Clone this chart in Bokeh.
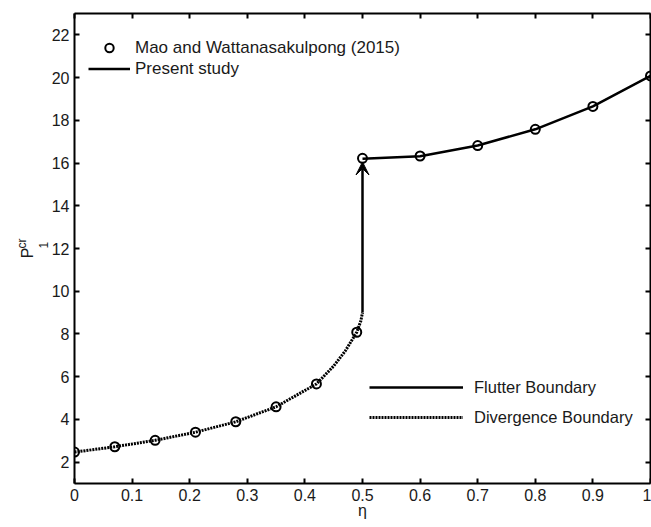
from bokeh.plotting import figure
from bokeh.models import (LinearAxis, FixedTicker, Range1d, Legend, LegendItem,
                          Arrow, VeeHead)
from bokeh.embed import file_html
from bokeh.resources import INLINE

# ---- data ----
# Mao and Wattanasakulpong (2015) (open circles)
eta_ref = [0, 0.07, 0.14, 0.21, 0.28, 0.35, 0.42, 0.49, 0.5, 0.6, 0.7, 0.8, 0.9, 1.0]
p_ref = [2.47, 2.72, 3.02, 3.40, 3.89, 4.59, 5.66, 8.08, 16.22, 16.33, 16.82, 17.58, 18.65, 20.08]

# Present study: divergence boundary (dotted)
eta_div = [0, 0.07, 0.14, 0.21, 0.28, 0.35, 0.42, 0.45, 0.47, 0.49, 0.497, 0.5]
p_div = [2.47, 2.72, 3.02, 3.40, 3.89, 4.59, 5.66, 6.50, 7.20, 8.08, 8.60, 9.00]

# Present study: flutter boundary (solid)
eta_flut = [0.5, 0.6, 0.7, 0.8, 0.9, 1.0]
p_flut = [16.20, 16.32, 16.82, 17.58, 18.65, 20.08]

# jump from divergence to flutter (arrow)
eta_jump = [0.5, 0.5]
p_jump = [9.0, 16.05]

x_ticks = [0, 0.1, 0.2, 0.3, 0.4, 0.5, 0.6, 0.7, 0.8, 0.9, 1]
x_tick_labels = ["0", "0.1", "0.2", "0.3", "0.4", "0.5", "0.6", "0.7", "0.8", "0.9", "1"]
y_ticks = [2, 4, 6, 8, 10, 12, 14, 16, 18, 20, 22]

FONT = "Liberation Sans"
TXT = "#1a1a1a"
NB = "\u00a0"

p = figure(width=651, height=527, x_range=Range1d(0, 1), y_range=Range1d(1, 23),
           output_backend="svg", toolbar_location=None,
           min_border_left=74, min_border_right=1, min_border_top=13, min_border_bottom=44,
           background_fill_color="white", border_fill_color="white",
           outline_line_color=None)
p.xgrid.visible = False
p.ygrid.visible = False


def style(ax, ticks, show_labels=True):
    ax.ticker = FixedTicker(ticks=ticks)
    ax.axis_line_width = 2
    ax.axis_line_color = "black"
    ax.major_tick_in = 5
    ax.major_tick_out = 0
    ax.major_tick_line_width = 2
    ax.major_tick_line_color = "black"
    ax.minor_tick_line_color = None
    ax.major_label_text_font = FONT
    ax.axis_label_text_font = FONT
    ax.axis_label_text_font_style = "normal"
    ax.axis_label_text_color = TXT
    if show_labels:
        ax.major_label_text_color = TXT
        ax.major_label_text_font_size = "16px"
        ax.major_label_standoff = 5
    else:
        ax.major_label_text_color = None
        ax.major_label_text_font_size = "0px"
        ax.major_label_standoff = 0


def label_axis(text, size, standoff):
    ax = LinearAxis(ticker=FixedTicker(ticks=[]), axis_line_color=None,
                    major_tick_line_color=None, minor_tick_line_color=None,
                    major_label_text_color=None, major_label_text_font_size="0px",
                    major_label_standoff=0, major_tick_out=0, major_tick_in=0,
                    axis_label=text, axis_label_text_font=FONT,
                    axis_label_text_font_style="normal", axis_label_text_color=TXT,
                    axis_label_text_font_size=size, axis_label_standoff=standoff)
    return ax


style(p.xaxis[0], x_ticks)
p.xaxis[0].major_label_overrides = {t: l for t, l in zip(x_ticks, x_tick_labels)}
p.xaxis[0].axis_label = "η"
p.xaxis[0].axis_label_text_font_size = "16px"
p.xaxis[0].axis_label_standoff = -2

style(p.yaxis[0], y_ticks)
# subscript "1" of the y title sits on the main y axis
p.yaxis[0].axis_label = NB + NB + "1"
p.yaxis[0].axis_label_text_font_size = "12px"
p.yaxis[0].axis_label_standoff = -2

# "P" and superscript "cr" on extra (invisible) left axes
p.add_layout(label_axis("P" + NB + NB, "16px", -2), "left")
p.add_layout(label_axis(NB + NB + NB + "cr", "12px", -13), "left")

top = LinearAxis()
style(top, x_ticks, False)
p.add_layout(top, "above")
right = LinearAxis()
style(right, y_ticks, False)
p.add_layout(right, "right")

# ---- glyphs ----
div_r = p.line(eta_div, p_div, line_color="black", line_width=3, line_dash="2 1")
flut_r = p.line(eta_flut, p_flut, line_color="black", line_width=2.5)
p.add_layout(Arrow(end=VeeHead(size=13, fill_color="black", line_color="black", line_width=1),
                   x_start=eta_jump[0], y_start=p_jump[0],
                   x_end=eta_jump[1], y_end=p_jump[1],
                   line_width=2.5, line_color="black"))
circ_r = p.scatter(eta_ref, p_ref, marker="circle", size=9, fill_color=None,
                   line_color="black", line_width=2)

# ---- legends ----
leg1 = Legend(items=[LegendItem(label="Mao and Wattanasakulpong (2015)", renderers=[circ_r]),
                     LegendItem(label="Present study", renderers=[flut_r])],
              location=(14, 404), glyph_width=42, glyph_height=21, label_height=21,
              label_standoff=5, spacing=0, padding=0, margin=0,
              border_line_color=None, background_fill_alpha=0,
              label_text_font=FONT, label_text_font_size="17px", label_text_color=TXT)
leg2 = Legend(items=[LegendItem(label="Flutter Boundary", renderers=[flut_r]),
                     LegendItem(label="Divergence Boundary", renderers=[div_r])],
              location=(295, 56), glyph_width=94, glyph_height=20, label_height=20,
              label_standoff=11, spacing=10, padding=0, margin=0,
              border_line_color=None, background_fill_alpha=0,
              label_text_font=FONT, label_text_font_size="16.5px", label_text_color=TXT)
p.add_layout(leg1)
p.add_layout(leg2)

open("out.html", "w").write(file_html(p, INLINE))
